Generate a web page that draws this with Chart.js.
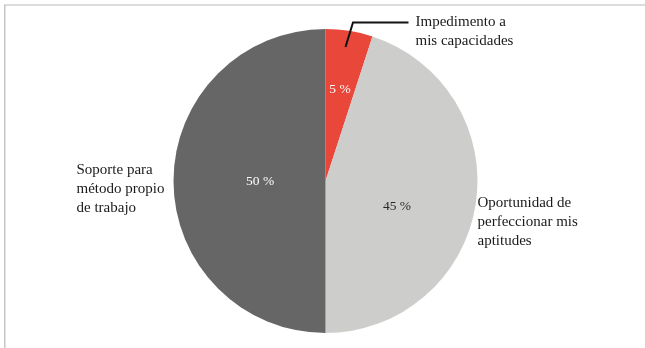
<!DOCTYPE html>
<html>
<head>
<meta charset="utf-8">
<script src="https://cdn.jsdelivr.net/npm/chart.js@4"></script>
<style>
  html, body { margin: 0; padding: 0; background: #ffffff; }
  #wrap { width: 645px; height: 348px; position: relative; }
</style>
</head>
<body>
<div id="wrap"><canvas id="c" width="645" height="348"></canvas></div>
<script>
// Shares of responses, in percent
const categories = ['Impedimento a mis capacidades', 'Oportunidad de perfeccionar mis aptitudes', 'Soporte para método propio de trabajo'];
const categoryLines = [
  ['Impedimento a', 'mis capacidades'],
  ['Oportunidad de', 'perfeccionar mis', 'aptitudes'],
  ['Soporte para', 'método propio', 'de trabajo']
];
const values = [5, 45, 50];
const colors = ['#e8473a', '#cdcdcb', '#666666'];
const valueTextColors = ['#ffffff', '#2a2a2a', '#ffffff'];

const SERIF = '"Liberation Serif", "DejaVu Serif", serif';

// Frame lines, value labels inside slices and category labels outside
const annotate = {
  id: 'annotate',
  beforeDraw(chart) {
    const ctx = chart.ctx;
    ctx.save();
    ctx.fillStyle = '#dcdcdc';
    ctx.fillRect(4, 4, 641, 2);
    ctx.fillStyle = '#c6c6c6';
    ctx.fillRect(4, 5, 1.5, 343);
    ctx.restore();
  },
  afterDatasetsDraw(chart) {
    const ctx = chart.ctx;
    const arcs = chart.getDatasetMeta(0).data;
    // placement of each value label: fraction of radius and angular nudge (radians)
    const radialFrac = [0.61, 0.5, 0.43];
    const angleNudge = [0, 0.19, 0];
    ctx.save();
    ctx.font = '13.5px ' + SERIF;
    ctx.textAlign = 'center';
    ctx.textBaseline = 'middle';
    arcs.forEach((arc, i) => {
      const p = arc.getProps(['x', 'y', 'startAngle', 'endAngle', 'outerRadius'], true);
      const mid = (p.startAngle + p.endAngle) / 2 + angleNudge[i];
      const r = p.outerRadius * radialFrac[i];
      ctx.fillStyle = valueTextColors[i];
      ctx.fillText(values[i] + ' %', p.x + Math.cos(mid) * r, p.y + Math.sin(mid) * r);
    });

    // Category labels
    const c = arcs[0].getProps(['x', 'y', 'outerRadius'], true);
    ctx.fillStyle = '#1a1a1a';
    ctx.textAlign = 'left';
    ctx.font = '15px ' + SERIF;
    const lh = 19;
    const blocks = [
      { x: c.x + 90, y: c.y - 159 },
      { x: c.x + 152, y: c.y + 22 },
      { x: c.x - 249, y: c.y - 11 }
    ];
    blocks.forEach((b, i) => {
      categoryLines[i].forEach((line, j) => ctx.fillText(line, b.x, b.y + j * lh));
    });

    // Leader line for the small slice
    ctx.strokeStyle = '#111111';
    ctx.lineWidth = 2;
    ctx.beginPath();
    ctx.moveTo(c.x + 20, c.y - 134);
    ctx.lineTo(c.x + 27.5, c.y - 158.5);
    ctx.lineTo(c.x + 83, c.y - 158.5);
    ctx.stroke();
    ctx.restore();
  }
};

new Chart(document.getElementById('c'), {
  type: 'pie',
  data: {
    labels: categories,
    datasets: [{
      data: values,
      backgroundColor: colors,
      borderWidth: 0
    }]
  },
  options: {
    responsive: false,
    animation: false,
    layout: { padding: { top: 29, bottom: 15, left: 20, right: 14 } },
    plugins: {
      legend: { display: false },
      tooltip: { enabled: false }
    }
  },
  plugins: [annotate]
});
</script>
</body>
</html>
